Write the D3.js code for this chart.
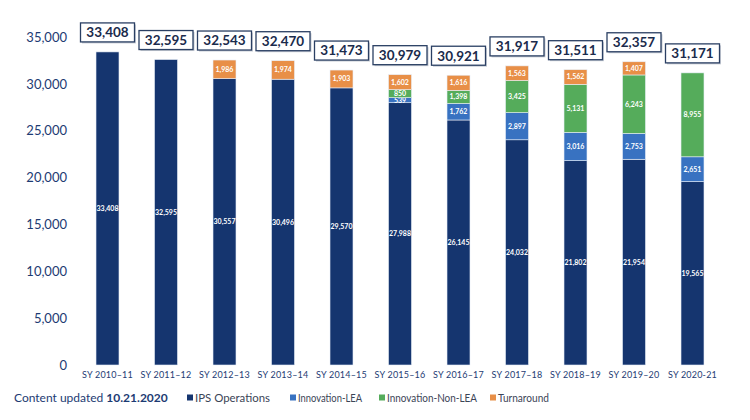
<!DOCTYPE html>
<html>
<head>
<meta charset="utf-8">
<script src="https://cdn.jsdelivr.net/npm/d3@7"></script>
<style>
  body { margin: 0; background: #fff; }
  text { font-family: Lato, "Open Sans", sans-serif; }
</style>
</head>
<body>
<div id="chart"></div>
<script>
// school years and enrollment by category
var years = ["SY 2010–11", "SY 2011–12", "SY 2012–13", "SY 2013–14", "SY 2014–15", "SY 2015–16",
             "SY 2016–17", "SY 2017–18", "SY 2018–19", "SY 2019–20", "SY 2020-21"];
var ipsOps = [33408, 32595, 30557, 30496, 29570, 27988, 26145, 24032, 21802, 21954, 19565];
var innovLea = [0, 0, 0, 0, 0, 539, 1762, 2897, 3016, 2753, 2651];
var innovNonLea = [0, 0, 0, 0, 0, 850, 1398, 3425, 5131, 6243, 8955];
var turnaround = [0, 0, 1986, 1974, 1903, 1602, 1616, 1563, 1562, 1407, 0];
var seriesNames = ["IPS Operations", "Innovation-LEA", "Innovation-Non-LEA", "Turnaround"];
var yTicks = [0, 5000, 10000, 15000, 20000, 25000, 30000, 35000];

var colors = ["#15356f", "#3872c1", "#55ac5b", "#e88f47"];
var navy = "#1d3b73";

var svgWidth = 750;
var svgHeight = 420;

var svg = d3.select("#chart")
  .append("svg")
  .attr("width", svgWidth)
  .attr("height", svgHeight);

var x = d3.scaleBand()
  .domain(years)
  .range([78.25, 721.75])
  .paddingInner(0.607)
  .paddingOuter(0.3035);

var y = d3.scaleLinear()
  .domain([0, 35000])
  .range([365, 37]);

// build rows for the stack
var rows = years.map(function(yr, i) {
  return {
    year: yr,
    "IPS Operations": ipsOps[i],
    "Innovation-LEA": innovLea[i],
    "Innovation-Non-LEA": innovNonLea[i],
    "Turnaround": turnaround[i]
  };
});

var stacked = d3.stack().keys(seriesNames)(rows);

// y axis labels only
var yAxis = d3.axisLeft(y).tickValues(yTicks).tickSize(0).tickPadding(0)
  .tickFormat(d3.format(","));
var yG = svg.append("g")
  .attr("transform", "translate(67,0)")
  .call(yAxis);
yG.select(".domain").remove();
yG.selectAll("text")
  .attr("fill", navy)
  .style("font-size", "13px");

// x axis labels
var xAxis = d3.axisBottom(x).tickSize(0).tickPadding(0);
var xG = svg.append("g")
  .attr("transform", "translate(0,372)")
  .call(xAxis);
xG.select(".domain").remove();
xG.selectAll("text")
  .attr("fill", navy)
  .style("font-size", "9px")
  .style("letter-spacing", "0.2px");

// bars
var layers = svg.selectAll(".layer")
  .data(stacked)
  .enter()
  .append("g")
  .attr("class", "layer")
  .attr("fill", function(d, i) { return colors[i]; });

layers.selectAll("rect")
  .data(function(d) { return d; })
  .enter()
  .filter(function(d) { return d[1] - d[0] > 0; })
  .append("rect")
  .attr("x", function(d) { return x(d.data.year); })
  .attr("y", function(d) { return y(d[1]); })
  .attr("width", x.bandwidth())
  .attr("height", function(d) { return y(d[0]) - y(d[1]); })
  .attr("stroke", "#e8eef7")
  .attr("stroke-width", 0.6);

// segment labels
layers.selectAll(".seg")
  .data(function(d) { return d; })
  .enter()
  .filter(function(d) { return d[1] - d[0] > 0; })
  .append("text")
  .attr("class", "seg")
  .attr("x", function(d) { return x(d.data.year) + x.bandwidth() / 2; })
  .attr("y", function(d) { return (y(d[0]) + y(d[1])) / 2; })
  .attr("dy", "0.35em")
  .attr("text-anchor", "middle")
  .attr("fill", "#fff")
  .style("font-size", "7px")
  .style("font-weight", "bold")
  .text(function(d) { return d3.format(",")(d[1] - d[0]); });

// total boxes
var totals = rows.map(function(r, i) {
  return { year: r.year, total: ipsOps[i] + innovLea[i] + innovNonLea[i] + turnaround[i] };
});

var boxW = 54, boxH = 19;
var boxes = svg.selectAll(".total")
  .data(totals)
  .enter()
  .append("g")
  .attr("class", "total")
  .attr("transform", function(d) {
    return "translate(" + (x(d.year) + x.bandwidth() / 2) + "," + (y(d.total) - 10 - boxH) + ")";
  });

boxes.append("rect")
  .attr("x", -boxW / 2 + 1.5)
  .attr("y", 1.5)
  .attr("width", boxW)
  .attr("height", boxH)
  .attr("fill", "#c9ced6");

boxes.append("rect")
  .attr("x", -boxW / 2)
  .attr("y", 0)
  .attr("width", boxW)
  .attr("height", boxH)
  .attr("fill", "#fff")
  .attr("stroke", "#2a3f63")
  .attr("stroke-width", 1.3);

boxes.append("text")
  .attr("x", 0)
  .attr("y", boxH / 2)
  .attr("dy", "0.36em")
  .attr("text-anchor", "middle")
  .attr("fill", "#1a2b4c")
  .style("font-size", "13.5px")
  .style("font-weight", "bold")
  .text(function(d) { return d3.format(",")(d.total); });

// footer note
var note = svg.append("text")
  .attr("x", 14)
  .attr("y", 402)
  .attr("fill", navy)
  .style("font-size", "12px");
note.append("tspan").text("Content updated ");
note.append("tspan").style("font-weight", "bold").text("10.21.2020");

// legend
var legendX = [187, 290, 379, 490];
var legendLen = [75, 64, 90, 51];
var legend = svg.selectAll(".legend")
  .data(seriesNames)
  .enter()
  .append("g")
  .attr("class", "legend")
  .attr("transform", function(d, i) { return "translate(" + legendX[i] + ",398)"; });

legend.append("rect")
  .attr("x", 0)
  .attr("y", -3.5)
  .attr("width", 6)
  .attr("height", 6)
  .attr("fill", function(d, i) { return colors[i]; });

legend.append("text")
  .attr("x", 8)
  .attr("y", 0)
  .attr("dy", "0.35em")
  .attr("fill", "#3b4456")
  .attr("textLength", function(d, i) { return legendLen[i]; })
  .attr("lengthAdjust", "spacingAndGlyphs")
  .style("font-size", "11.5px")
  .text(function(d) { return d; });
</script>
</body>
</html>
